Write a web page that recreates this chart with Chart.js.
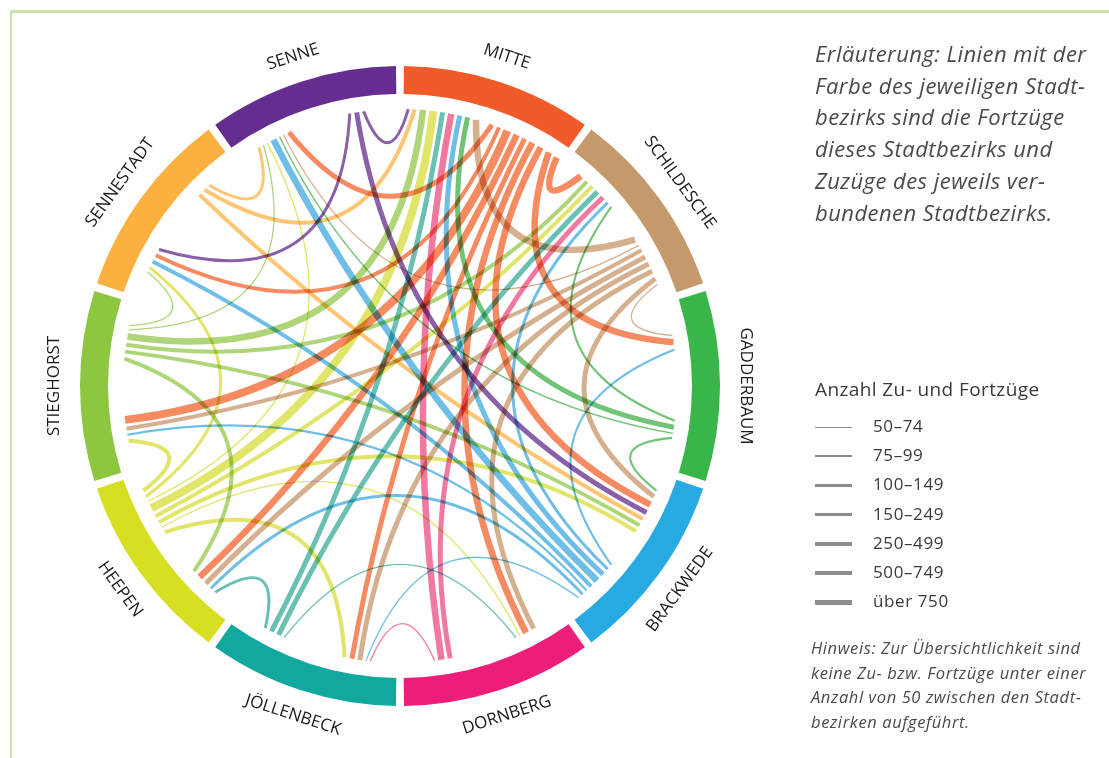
<!DOCTYPE html>
<html>
<head>
<meta charset="utf-8">
<script src="https://cdn.jsdelivr.net/npm/chart.js@4.4.1/dist/chart.umd.min.js"></script>
<style>
  body { margin: 0; background: #fff; font-family: "Open Sans", sans-serif; }
  #wrap { position: relative; width: 1109px; height: 758px; overflow: hidden; }
  #frame { position: absolute; left: 10px; top: 10px; width: 1200px; height: 800px;
           border-left: 2px solid #c9e3a9; border-top: 3px solid #c9e3a9; }
  canvas { position: absolute; left: 0; top: 0; }
  .note { position: absolute; left: 815px; top: 38px; font-style: italic; font-size: 22px;
          letter-spacing: 0.45px; line-height: 31.7px; color: #4a4a4a; white-space: nowrap; }
  .hint { position: absolute; left: 811px; top: 636px; font-style: italic; font-size: 16.5px;
          letter-spacing: 0.6px; line-height: 24.5px; color: #4a4a4a; white-space: nowrap; }
  .legTitle { position: absolute; left: 815px; top: 376px; font-size: 19px; letter-spacing: 0.4px; color: #3a3a3a; }
  .legRow { position: absolute; left: 815px; height: 20px; width: 200px; }
  .legRow span.l { position: absolute; left: 0; width: 37px; background: #8c8c8c; }
  .legRow span.t { position: absolute; left: 58px; top: -1px; font-size: 17px; letter-spacing: 0.6px;
                   line-height: 20px; color: #3a3a3a; white-space: nowrap; }
</style>
</head>
<body>
<div id="wrap">
  <div id="frame"></div>
  <canvas id="myChart" width="1109" height="758"></canvas>
  <div class="note">Erläuterung: Linien mit der<br>Farbe des jeweiligen Stadt-<br>bezirks sind die Fortzüge<br>dieses Stadtbezirks und<br>Zuzüge des jeweils ver-<br>bundenen Stadtbezirks.</div>
  <div class="legTitle">Anzahl Zu- und Fortzüge</div>
  <div id="legend"></div>
  <div class="hint">Hinweis: Zur Übersichtlichkeit sind<br>keine Zu- bzw. Fortzüge unter einer<br>Anzahl von 50 zwischen den Stadt-<br>bezirken aufgeführt.</div>
</div>
<script>
// Stadtbezirke, clockwise from the top
const districts = ['MITTE', 'SCHILDESCHE', 'GADDERBAUM', 'BRACKWEDE', 'DORNBERG',
                   'JÖLLENBECK', 'HEEPEN', 'STIEGHORST', 'SENNESTADT', 'SENNE'];
const segmentShare = [1, 1, 1, 1, 1, 1, 1, 1, 1, 1];
const ringColors = ['#f15a29', '#c49a6c', '#39b54a', '#27aae1', '#ec1e79',
                    '#13a89e', '#d7df23', '#8dc63f', '#fbb040', '#662d91'];
const chordColors = ['#f47a4b', '#cfa57e', '#5dbb63', '#5bb5e3', '#ef6592',
                     '#55b7a8', '#dce154', '#a2cf65', '#fdbd5f', '#7a4b9c'];

// Fortzüge: from district index -> to district index, number of movers
const flowFrom = [0, 0, 0, 0, 0, 0, 0, 0, 0,
                  1, 1, 1, 1, 1, 1, 1, 1,
                  2, 2, 2, 2,
                  3, 3, 3, 3, 3, 3, 3, 3,
                  4, 4, 4,
                  5, 5, 5, 5,
                  6, 6, 6, 6, 6, 6, 6, 6,
                  7, 7, 7, 7, 7, 7,
                  8, 8, 8,
                  9, 9, 9];
const flowTo   = [9, 8, 7, 6, 5, 4, 3, 2, 1,
                  0, 9, 7, 6, 5, 4, 3, 2,
                  1, 0, 9, 3,
                  2, 1, 0, 9, 8, 7, 6, 5,
                  1, 0, 5,
                  4, 1, 0, 6,
                  5, 4, 3, 1, 0, 9, 8, 7,
                  6, 3, 1, 0, 9, 8,
                  3, 0, 9,
                  8, 3, 0];
const flowCount = [310, 210, 820, 560, 330, 520, 640, 510, 690,
                   580, 55, 170, 260, 270, 280, 290, 60,
                   80, 300, 52, 90,
                   85, 110, 380, 530, 190, 95, 130, 58,
                   360, 540, 62,
                   57, 320, 420, 105,
                   160, 54, 180, 230, 860, 66, 140, 200,
                   175, 165, 185, 610, 51, 70,
                   155, 195, 120,
                   115, 270, 125];

// legend classes
const classLimits = [50, 75, 100, 150, 250, 500, 750];
const classLabels = ['50–74', '75–99', '100–149', '150–249', '250–499', '500–749', 'über 750'];
const chordWidths = [1.3, 2.1, 3, 4, 5, 6.5, 8];
const legendWidths = [1, 1.7, 2.4, 3, 3.7, 4.3, 5];

const ringSpacing = 24;
const gap = 3;

function classOf(v) {
  let c = 0;
  classLimits.forEach((lim, i) => { if (v >= lim) c = i; });
  return c;
}

// legend
let legend = document.getElementById('legend');
classLabels.forEach((lab, i) => {
  let row = document.createElement('div');
  row.className = 'legRow';
  row.style.top = (417 + i * 29.2) + 'px';
  let h = legendWidths[i];
  row.innerHTML = '<span class="l" style="height:' + h + 'px;top:' + (10 - h / 2) + 'px"></span>' +
                  '<span class="t">' + lab + '</span>';
  legend.appendChild(row);
});

const chordPlugin = {
  id: 'chords',
  afterDatasetsDraw(chart) {
    const arcs = chart.getDatasetMeta(0).data;
    const ctx = chart.ctx;
    const n = arcs.length;
    const cx = arcs[0].x, cy = arcs[0].y;
    const rEnd = arcs[0].innerRadius + ringSpacing / 2 - 15;

    // incoming ends first, then outgoing; each sorted counterclockwise from the previous segment
    let slots = arcs.map(() => ({ inc: [], out: [] }));
    flowFrom.forEach((f, i) => {
      let t = flowTo[i];
      slots[f].out.push({ flow: i, key: (f - t + n) % n });
      slots[t].inc.push({ flow: i, key: (t - f + n) % n });
    });
    let pos = flowFrom.map(() => ({}));
    slots.forEach((s, seg) => {
      let a = arcs[seg];
      let mid = (a.startAngle + a.endAngle) / 2;
      [['inc', a.startAngle, mid], ['out', mid, a.endAngle]].forEach(([k, a0, a1]) => {
        let list = s[k].sort((p, q) => p.key - q.key);
        if (!list.length) return;
        let ws = list.map(e => chordWidths[classOf(flowCount[e.flow])]);
        let total = ws.reduce((x, y) => x + y, 0) + gap * (list.length - 1);
        let ang = (a0 + a1) / 2 - total / rEnd / 2;
        list.forEach((e, j) => {
          pos[e.flow][k] = ang + ws[j] / 2 / rEnd;
          ang += (ws[j] + gap) / rEnd;
        });
      });
    });

    ctx.save();
    ctx.globalCompositeOperation = 'multiply';
    ctx.globalAlpha = 0.88;
    ctx.lineCap = 'butt';
    flowFrom.forEach((f, i) => {
      let a0 = pos[i].out, a1 = pos[i].inc;
      let d = Math.abs(a1 - a0);
      let m = (a0 + a1) / 2;
      if (d > Math.PI) { d = 2 * Math.PI - d; m += Math.PI; }
      let k = Math.max(0, 0.85 - 0.0095 * d * 180 / Math.PI);
      ctx.beginPath();
      ctx.moveTo(cx + rEnd * Math.cos(a0), cy + rEnd * Math.sin(a0));
      ctx.quadraticCurveTo(cx + rEnd * k * Math.cos(m), cy + rEnd * k * Math.sin(m),
                           cx + rEnd * Math.cos(a1), cy + rEnd * Math.sin(a1));
      ctx.strokeStyle = chordColors[f];
      ctx.lineWidth = chordWidths[classOf(flowCount[i])];
      ctx.stroke();
    });
    ctx.restore();
  },
  afterDraw(chart) {
    const arcs = chart.getDatasetMeta(0).data;
    const ctx = chart.ctx;
    ctx.save();
    ctx.font = '17px "Open Sans"';
    ctx.fillStyle = '#1a1a1a';
    ctx.textAlign = 'center';
    ctx.textBaseline = 'middle';
    arcs.forEach((a, i) => {
      let m = (a.startAngle + a.endAngle) / 2;
      let r = a.outerRadius + ringSpacing / 2 + 26;
      ctx.save();
      ctx.translate(a.x + r * Math.cos(m), a.y + r * Math.sin(m));
      if (Math.sin(m) <= 1e-6) ctx.rotate(m + Math.PI / 2);
      else ctx.rotate(m - Math.PI / 2);
      ctx.fillText(chart.data.labels[i], 0, 0);
      ctx.restore();
    });
    ctx.restore();
  }
};

var ctx = document.getElementById('myChart').getContext('2d');
var myChart = new Chart(ctx, {
  type: 'doughnut',
  data: {
    labels: districts,
    datasets: [{
      data: segmentShare,
      backgroundColor: ringColors,
      borderWidth: 0,
      spacing: ringSpacing
    }]
  },
  options: {
    responsive: false,
    animation: false,
    cutout: '90.9%',
    events: [],
    layout: { padding: { left: 80, top: 66, right: 389, bottom: 52 } },
    plugins: { legend: { display: false }, tooltip: { enabled: false } }
  },
  plugins: [chordPlugin]
});
</script>
</body>
</html>
